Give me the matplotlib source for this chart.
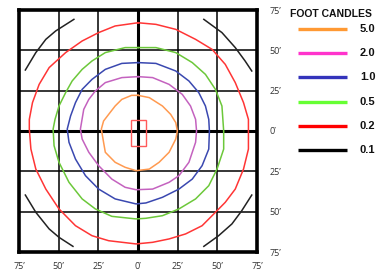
import matplotlib.pyplot as plt
from matplotlib.patches import Rectangle

# grid ticks (feet) and their labels
ticks = [-75, -50, -25, 0, 25, 50, 75]
tick_labels = ["75\u2019", "50\u2019", "25\u2019", "0\u2019", "25\u2019", "50\u2019", "75\u2019"]

# iso-footcandle contours, traced clockwise from the top (ft)
fc50_x = [0, 7.1, 15.4, 20.6, 23.8, 24.8, 23.8, 19.6, 13.3, 7.1, -1.25,
          -8.1, -14.4, -20.6, -21.7, -23.1, -21.7, -18.5, -14.4, -10.2, -4.0]
fc50_y = [22.1, 20.7, 15.5, 10.3, 5.2, 0, -5.0, -13.2, -19.4, -23.6, -24.6,
          -22.5, -19.4, -13.2, -7.0, 1.2, 6.2, 10.3, 15.5, 19.6, 22.1]

fc20_x = [0, 9.2, 19.6, 27.9, 33.1, 36.3, 36.9, 36.3, 32.1, 25.8, 19.6, 9.2, -1.25,
          -8.1, -16.5, -24.8, -31.0, -35.2, -36.3, -34.2, -31.0, -26.9, -20.6, -10.2]
fc20_y = [33.7, 33.1, 28.9, 22.7, 15.5, 7.2, 0, -7.0, -19.4, -27.7, -31.8, -36.0, -36.4,
          -34.9, -29.8, -21.5, -13.2, -5.0, 1.2, 13.4, 19.6, 24.8, 30.0, 33.1]

fc10_x = [0, 11.3, 23.8, 32.1, 38.3, 42.5, 44.6, 45.0, 44.6, 40.4, 34.2, 25.8, 15.4, 5.0,
          -1.25, -14.4, -24.8, -33.1, -39.4, -43.5, -44.6, -42.5, -39.4, -35.2, -29.0,
          -20.6, -10.2]
fc10_y = [42.4, 41.9, 37.2, 31.0, 23.8, 15.5, 7.2, 0, -11.2, -21.5, -29.8, -36.0, -41.1,
          -44.6, -45.2, -42.1, -36.0, -27.7, -17.4, -7.0, 1.2, 9.3, 17.6, 25.8, 32.0,
          38.2, 41.9]

fc05_x = [0, 11.3, 23.8, 34.2, 42.5, 48.8, 52.9, 54.0, 54.0, 49.8, 44.6, 36.3, 25.8, 15.4,
          5.0, -1.25, -16.5, -26.9, -35.2, -43.5, -49.8, -52.9, -53.5, -52.3, -49.8,
          -45.6, -41.5, -35.2, -29.0, -20.6, -8.1]
fc05_y = [51.7, 51.7, 48.6, 42.4, 35.1, 25.8, 15.5, 0, -11.2, -23.6, -33.9, -42.1, -48.3,
          -52.5, -54.1, -54.5, -52.9, -48.3, -42.1, -31.8, -19.4, -9.1, 1.2, 7.2, 15.5,
          23.8, 31.0, 38.2, 43.4, 48.6, 51.7]

fc02_x = [0, 11.3, 23.8, 36.3, 46.7, 55.0, 61.3, 66.5, 69.6, 69.6, 69.6, 66.5, 61.3, 55.0,
          48.8, 40.4, 30.0, 19.6, 9.2, -1.25, -18.5, -29.0, -39.4, -49.8, -58.1, -64.4,
          -67.5, -68.5, -68.5, -66.5, -62.3, -56.0, -45.6, -35.2, -24.8, -14.4]
fc02_y = [67.1, 66.1, 63.0, 56.8, 50.6, 41.3, 30.0, 17.6, 7.2, 0, -11.2, -23.6, -36.0,
          -44.2, -50.4, -58.7, -63.8, -66.9, -69.0, -70.0, -68.0, -64.9, -58.7, -48.3,
          -36.0, -23.6, -11.2, 1.2, 7.2, 17.6, 28.9, 39.3, 48.6, 55.8, 61.0, 65.1]

# 0.1 fc only shows as four corner arcs
arc_tl_x = [-71.0, -64.4, -58.1, -51.9, -40.4]
arc_tl_y = [37.8, 48.6, 56.8, 62.0, 69.2]
arc_tr_x = [41.5, 52.9, 61.3, 67.5, 71.7]
arc_tr_y = [69.2, 61.0, 51.7, 43.4, 37.2]
arc_bl_x = [-71.0, -64.4, -56.0, -49.8, -41.0]
arc_bl_y = [-39.7, -50.4, -60.7, -65.9, -71.5]
arc_br_x = [41.5, 50.8, 59.2, 65.4, 71.7]
arc_br_y = [-71.5, -64.9, -57.6, -49.4, -39.7]

# fixture outline at the centre
fixture_x, fixture_y, fixture_w, fixture_h = -4.4, -9.3, 9.4, 16.1

levels = ["5.0", "2.0", "1.0", "0.5", "0.2", "0.1"]
legend_colors = ["#ff9933", "#ff33cc", "#3333bb", "#66ff33", "#ff0000", "#000000"]
plot_colors = ["#ff9a50", "#c462bf", "#3a48b0", "#6cc83a", "#ff3535", "#222222"]

W, H = 389, 269
fig = plt.figure(figsize=(W / 100, H / 100), dpi=100)
ax = fig.add_axes([19 / W, 1 - 252 / H, 238 / W, 242 / H])
ax.set_xlim(-75, 75)
ax.set_ylim(-75, 75)

ax.set_xticks(ticks)
ax.set_yticks(ticks)
ax.set_xticklabels(tick_labels, family="Open Sans")
ax.set_yticklabels(tick_labels, family="Open Sans", ha="left")
ax.yaxis.tick_right()
ax.tick_params(length=0, labelsize=6.5, labelcolor="#333333", pad=9)
ax.tick_params(axis="x", pad=7)

ax.grid(True, color="black", lw=1.1, zorder=1)
ax.set_axisbelow(True)
ax.axhline(0, color="black", lw=2.2, zorder=1)
ax.axvline(0, color="black", lw=2.2, zorder=1)
for sp in ax.spines.values():
    sp.set_linewidth(2.6)
    sp.set_zorder(5)

contours = [(fc50_x, fc50_y), (fc20_x, fc20_y), (fc10_x, fc10_y),
            (fc05_x, fc05_y), (fc02_x, fc02_y)]
for (xs, ys), c in zip(contours, plot_colors):
    ax.plot(xs + xs[:1], ys + ys[:1], color=c, lw=1.1, zorder=3)

for xs, ys in [(arc_tl_x, arc_tl_y), (arc_tr_x, arc_tr_y),
               (arc_bl_x, arc_bl_y), (arc_br_x, arc_br_y)]:
    ax.plot(xs, ys, color=plot_colors[-1], lw=1.1, zorder=3)

ax.add_patch(Rectangle((fixture_x, fixture_y), fixture_w, fixture_h,
                       fill=False, ec="#ff5a5a", lw=1.0, zorder=3))

# legend drawn in pixel space on the right
lax = fig.add_axes([0, 0, 1, 1])
lax.set_xlim(0, W)
lax.set_ylim(H, 0)
lax.axis("off")
lax.text(290, 14, "FOOT CANDLES", fontsize=7.5, fontweight="bold",
         family="Liberation Sans", ha="left", va="center", color="#111111")
for i, (lev, c) in enumerate(zip(levels, legend_colors)):
    y = 29 + i * 24.2
    lax.plot([298, 347], [y, y], color=c, lw=2.4, solid_capstyle="butt")
    lax.text(360, y, lev, fontsize=8, fontweight="bold", family="Liberation Sans",
             ha="left", va="center", color="#111111")

fig.savefig("out.png", dpi=100)
